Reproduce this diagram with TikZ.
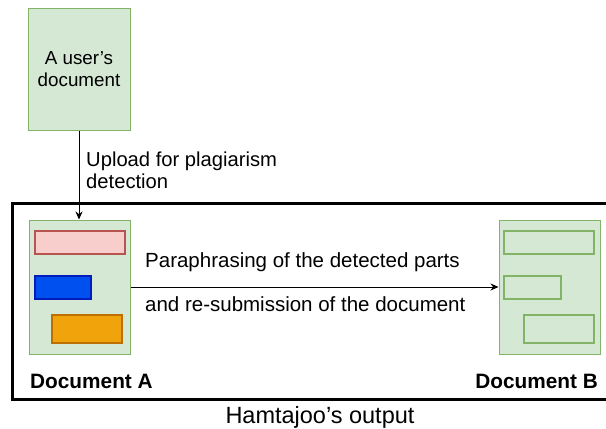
\documentclass[tikz,border=0pt]{standalone}
\usepackage{fontspec}
\setmainfont{Liberation Sans}
\usetikzlibrary{arrows.meta}

\definecolor{docfill}{HTML}{D5E8D4}
\definecolor{docline}{HTML}{82B366}
\definecolor{pinkfill}{HTML}{F8CECC}
\definecolor{pinkline}{HTML}{B85450}
\definecolor{bluefill}{HTML}{0050EF}
\definecolor{blueline}{HTML}{001DBC}
\definecolor{orangefill}{HTML}{F0A30A}
\definecolor{orangeline}{HTML}{BD7000}

\tikzset{
    docbox/.style={draw=docline, fill=docfill, line width=1pt, inner sep=0pt, align=center},
    partbox/.style={draw=#1line, fill=#1fill, line width=1.2pt, inner sep=0pt},
    flow/.style={-{Stealth[length=8pt, width=7pt]}, line width=0.8pt},
    lbl/.style={inner sep=0pt, font=\fontsize{20.5}{22}\selectfont}
}

\begin{document}
\begin{tikzpicture}[x=1pt, y=-1pt]

                    \useasboundingbox (0, 0) rectangle (606, 429);

                    % outer frame, its right side runs off the page
                    \draw[line width=3pt] (12, 203) rectangle (614, 399);

                    \node[docbox, minimum width=102pt, minimum height=122pt, font=\fontsize{18.8}{22}\selectfont] (user) at (79, 69) {A user’s\\document};

                    \node[docbox, minimum width=101pt, minimum height=134pt] (docA) at (79.5, 287) {};
                    \node[docbox, minimum width=101pt, minimum height=134pt] (docB) at (549.5, 287) {};

                    \node[partbox=pink, minimum width=90pt, minimum height=23pt] (pinkA) at (80, 242.5) {};
                    \node[partbox=blue, minimum width=56pt, minimum height=23pt] (blueA) at (63, 287.5) {};
                    \node[partbox=orange, minimum width=70pt, minimum height=28pt] (orangeA) at (87, 329) {};

                    \node[partbox=doc, minimum width=90pt, minimum height=23pt] (pinkB) at (549, 242.5) {};
                    \node[partbox=doc, minimum width=57pt, minimum height=23pt] (blueB) at (532.5, 287.5) {};
                    \node[partbox=doc, minimum width=70pt, minimum height=28pt] (orangeB) at (559, 329) {};

                    \draw[flow] (user.south) -- (user.south |- docA.north);
                    \node[lbl, align=left, anchor=west, font=\fontsize{20.2}{22}\selectfont] (upload) at (86, 170) {Upload for plagiarism\\detection};

                    \draw[flow] (docA.east) -- (docB.west);
                    \node[lbl, anchor=base west] (para1) at (145, 267) {Paraphrasing of the detected parts};
                    \node[lbl, anchor=base west] (para2) at (145, 311) {and re-submission of the document};

                    \node[lbl, anchor=base west, font=\bfseries\fontsize{20.8}{22}\selectfont] (nameA) at (30, 388) {Document A};
                    \node[lbl, anchor=base east, font=\bfseries\fontsize{20.8}{22}\selectfont] (nameB) at (598, 388) {Document B};

                    \node[lbl, anchor=base, font=\fontsize{23.5}{26}\selectfont] (output) at (320, 423) {Hamtajoo’s output};

\end{tikzpicture}
\end{document}
